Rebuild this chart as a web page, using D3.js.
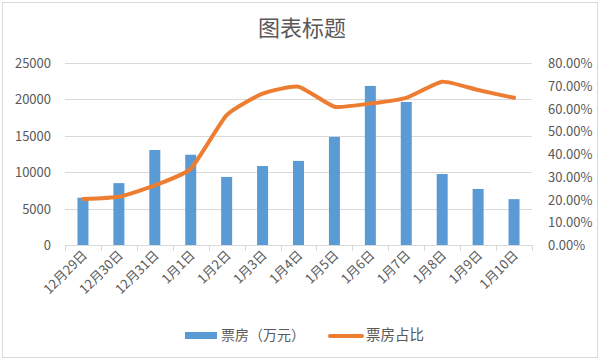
<!DOCTYPE html>
<html><head><meta charset="utf-8">
<script src="https://cdn.jsdelivr.net/npm/d3@7"></script>
<style>body{margin:0;background:#fff}svg{display:block}text{font-family:"Noto Sans CJK SC","Liberation Sans",sans-serif;fill:#595959}</style>
</head><body>
<script>
const categories = ["12月29日","12月30日","12月31日","1月1日","1月2日","1月3日","1月4日","1月5日","1月6日","1月7日","1月8日","1月9日","1月10日"];
const boxOffice = [6500,8500,13050,12400,9350,10850,11550,14850,21850,19650,9750,7700,6300];
const share = [0.202,0.212,0.262,0.335,0.571,0.665,0.696,0.608,0.622,0.647,0.718,0.681,0.647];
const leftTicks = [0,5000,10000,15000,20000,25000];
const rightTicks = [0,0.1,0.2,0.3,0.4,0.5,0.6,0.7,0.8];
const title = "图表标题";
const seriesNames = ["票房（万元）","票房占比"];

const W=601,H=361;
const svg=d3.select("body").append("svg").attr("width",W).attr("height",H);
svg.append("rect").attr("x",2.5).attr("y",2.5).attr("width",W-6).attr("height",H-6).attr("fill","#fff").attr("stroke","#D9D9D9");
const x=d3.scaleBand().domain(categories).range([65,532]);
const yL=d3.scaleLinear().domain([0,25000]).range([245,63]);
const yR=d3.scaleLinear().domain([0,0.8]).range([245,63]);

svg.append("text").attr("x",302).attr("y",36).attr("text-anchor","middle").style("font-size","22px").text(title);

// gridlines
svg.append("g").selectAll("line").data(leftTicks.slice(1)).join("line")
 .attr("x1",65).attr("x2",532).attr("y1",d=>Math.round(yL(d))+0.5).attr("y2",d=>Math.round(yL(d))+0.5).attr("stroke","#D9D9D9");
// left labels
svg.append("g").selectAll("text").data(leftTicks).join("text")
 .attr("x",51).attr("y",d=>yL(d)+5).attr("text-anchor","end").style("font-size","13px").text(d=>d);
svg.append("g").selectAll("text").data(rightTicks).join("text")
 .attr("x",548).attr("y",d=>yR(d)+5).attr("text-anchor","start").style("font-size","13px").text(d=>(d*100).toFixed(2)+"%");

// bars
const bw=11;
svg.append("g").selectAll("rect").data(boxOffice).join("rect")
 .attr("x",(d,i)=>x(categories[i])+x.bandwidth()/2-bw/2).attr("width",bw)
 .attr("y",d=>yL(d)).attr("height",d=>245-yL(d)).attr("fill","#5B9BD5");

// x axis
svg.append("line").attr("x1",65).attr("x2",532).attr("y1",245.5).attr("y2",245.5).attr("stroke","#D9D9D9");
const bounds=categories.map(c=>x(c)).concat([x.range()[1]]);
svg.append("g").selectAll("line").data(bounds).join("line")
 .attr("x1",d=>Math.round(d)+0.5).attr("x2",d=>Math.round(d)+0.5).attr("y1",245).attr("y2",251).attr("stroke","#D9D9D9");
svg.append("g").selectAll("text").data(categories).join("text")
 .attr("transform",d=>`translate(${x(d)+x.bandwidth()/2+5},${256}) rotate(-45)`)
 .attr("text-anchor","end").style("font-size","13px").text(d=>d);

// line
const line=d3.line().x((d,i)=>x(categories[i])+x.bandwidth()/2).y(d=>yR(d)).curve(d3.curveCardinal.tension(0.5));
svg.append("path").datum(share).attr("d",line).attr("fill","none").attr("stroke","#ED7D31").attr("stroke-width",4).attr("stroke-linecap","round").attr("stroke-linejoin","round");

// legend
const lg=svg.append("g");
lg.append("rect").attr("x",185).attr("y",332).attr("width",32).attr("height",7).attr("fill","#5B9BD5");
lg.append("text").attr("x",221).attr("y",340).style("font-size","14px").text(seriesNames[0]);
lg.append("line").attr("x1",330).attr("x2",362).attr("y1",336).attr("y2",336).attr("stroke","#ED7D31").attr("stroke-width",4).attr("stroke-linecap","round");
lg.append("text").attr("x",366).attr("y",340).style("font-size","14.5px").text(seriesNames[1]);
</script>
</body></html>
